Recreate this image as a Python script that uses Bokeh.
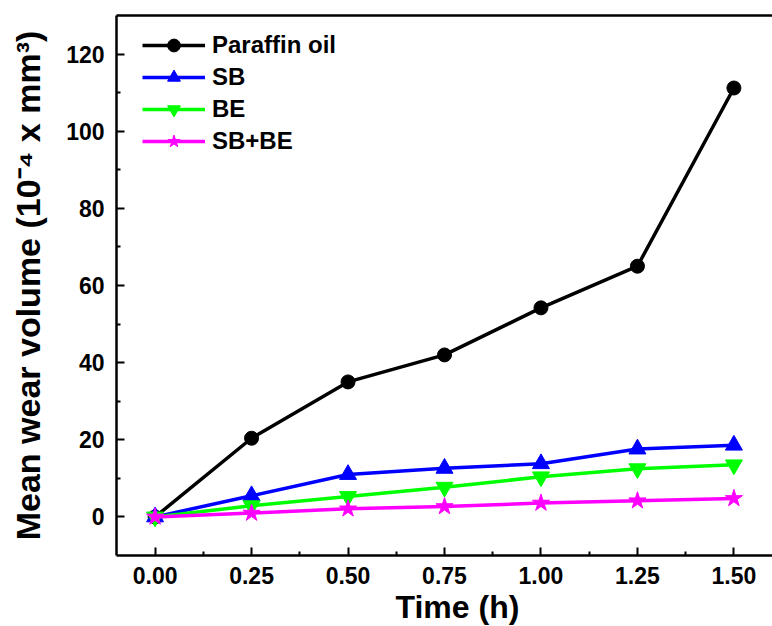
from bokeh.plotting import figure
from bokeh.models import Range1d, FixedTicker, Legend, LinearAxis, Title
from bokeh.embed import file_html
from bokeh.resources import INLINE

time_h = [0.0, 0.25, 0.5, 0.75, 1.0, 1.25, 1.5]
paraffin = [0.0, 20.4, 35.0, 42.0, 54.2, 65.0, 111.2]
sb = [0.0, 5.5, 11.0, 12.6, 13.8, 17.6, 18.6]
be = [0.0, 2.9, 5.3, 7.7, 10.4, 12.5, 13.5]
sb_be = [0.0, 1.0, 2.1, 2.7, 3.6, 4.2, 4.8]
x_ticks = [0.0, 0.25, 0.5, 0.75, 1.0, 1.25, 1.5]
x_tick_labels = ["0.00", "0.25", "0.50", "0.75", "1.00", "1.25", "1.50"]
y_ticks = [0, 20, 40, 60, 80, 100, 120]

FONT = "Liberation Sans"

p = figure(width=772, height=626, output_backend="svg", toolbar_location=None,
           x_range=Range1d(-0.1, 1.6), y_range=Range1d(-10, 130),
           min_border_left=116, min_border_right=0, min_border_top=15, min_border_bottom=71)
p.background_fill_color = "white"
p.border_fill_color = "white"
p.grid.visible = False
p.outline_line_color = None
p.outline_line_alpha = 0
p.outline_line_width = 0

p.xaxis.ticker = FixedTicker(ticks=x_ticks, minor_ticks=[0.125 + 0.25 * i for i in range(6)])
p.xaxis.major_label_overrides = {t: l for t, l in zip(x_ticks, x_tick_labels)}
p.yaxis.ticker = FixedTicker(ticks=y_ticks, minor_ticks=[10, 30, 50, 70, 90, 110])

for ax in (p.xaxis[0], p.yaxis[0]):
    ax.axis_line_width = 2.5
    ax.axis_line_color = "black"
    ax.major_tick_in = 8
    ax.major_tick_out = 0
    ax.minor_tick_in = 4
    ax.minor_tick_out = 0
    ax.major_tick_line_width = 2
    ax.minor_tick_line_width = 2
    ax.major_label_text_font = FONT
    ax.major_label_text_font_style = "bold"
    ax.major_label_text_font_size = "23px"
    ax.major_label_text_color = "black"
    ax.axis_label_text_font = FONT
    ax.axis_label_text_font_style = "bold"
    ax.axis_label_text_color = "black"

p.xaxis.major_label_standoff = 11
p.yaxis.axis_label = "Mean wear volume (10\u207b\u2074 x mm\u00b3)"
p.yaxis.axis_label_text_font_size = "34px"
p.yaxis.major_label_standoff = 12
p.yaxis.axis_label_standoff = 16

x_title = Title(text="Time (h)", align="left", offset=279, standoff=0,
                text_font=FONT, text_font_style="bold", text_font_size="32px",
                text_color="black")
p.add_layout(x_title, "below")

top_axis = LinearAxis(ticker=FixedTicker(ticks=[]), axis_line_width=2.5, axis_line_color="black",
                      major_tick_in=0, major_tick_out=0, minor_tick_in=0, minor_tick_out=0,
                      major_label_text_font_size="0px")
p.add_layout(top_axis, "above")

series = [
    ("Paraffin oil", paraffin, "black", "circle", 14),
    ("SB", sb, "blue", "triangle", 17),
    ("BE", be, "lime", "inverted_triangle", 17),
    ("SB+BE", sb_be, "magenta", "star", 18),
]
items = []
for name, ys, color, marker, size in series:
    r1 = p.line(time_h, ys, line_color=color, line_width=3.5)
    r2 = p.scatter(time_h, ys, marker=marker, size=size, fill_color=color, line_color=color)
    items.append((name, [r1, r2]))

legend = Legend(items=items, location=(26, 398))
legend.border_line_color = None
legend.background_fill_alpha = 0
legend.label_text_font = FONT
legend.label_text_font_style = "bold"
legend.label_text_font_size = "24px"
legend.label_text_color = "black"
legend.glyph_width = 63
legend.glyph_height = 32
legend.label_height = 32
legend.spacing = 0
legend.padding = 0
legend.margin = 0
legend.label_standoff = 7
p.add_layout(legend)

open("out.html", "w").write(file_html(p, INLINE))
